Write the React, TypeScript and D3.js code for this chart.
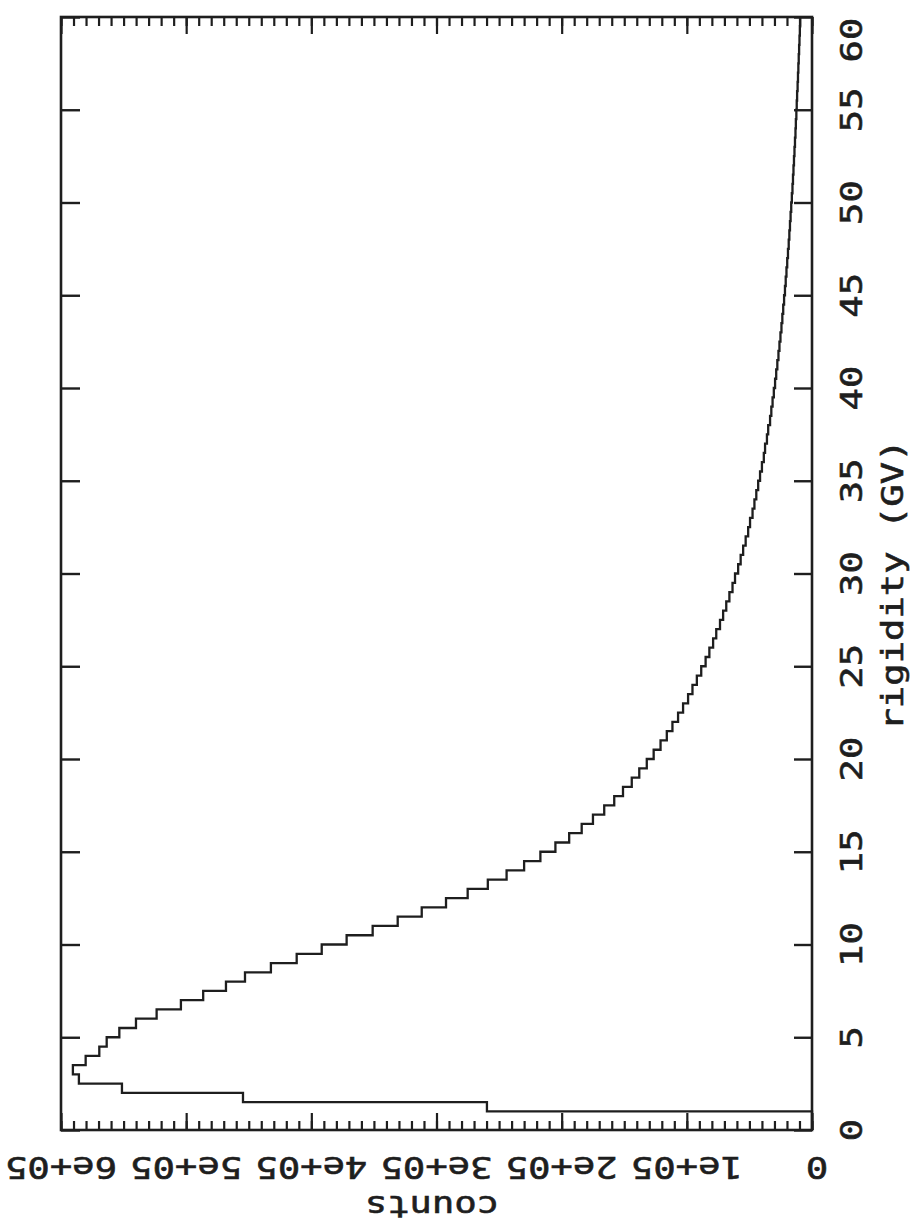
import React, { useEffect, useRef } from 'react';
import * as d3 from 'd3';

// histogram of rigidity, 0.5 GV bins starting at 0 GV (counts)
const binWidth = 0.5;
const binStarts = d3.range(0, 60, binWidth);
const counts = [
  0, 0, 259700, 454600, 551300, 585700, 590500, 580300, 569400, 563500,
  553400, 540100, 523600, 504200, 486400, 468200, 453000, 432300, 411700, 391700,
  371800, 351000, 331000, 311800, 292400, 275100, 259000, 244000, 230000, 217000,
  205000, 194000, 184000, 175000, 166000, 158000, 151000, 144000, 138000, 132000,
  126500, 121000, 116000, 111500, 107000, 103000, 99000, 95500, 92000, 88500,
  85000, 82000, 79000, 76500, 73500, 71000, 68500, 66000, 63500, 61500,
  59000, 57000, 55000, 53000, 51000, 49500, 47500, 46000, 44500, 43000,
  41500, 40000, 38500, 37500, 36000, 35000, 33500, 32500, 31500, 30500,
  29500, 28600, 27700, 26800, 26000, 25200, 24400, 23700, 23000, 22300,
  21600, 21000, 20400, 19800, 19200, 18600, 18100, 17600, 17100, 16600,
  16100, 15600, 15200, 14800, 14400, 14000, 13600, 13200, 12900, 12500,
  12200, 11900, 11500, 11200, 10900, 10600, 10300, 10000, 9700, 9400
];
const rigidityTicks = [0, 5, 10, 15, 20, 25, 30, 35, 40, 45, 50, 55, 60];
const countTicks = [0, 1e5, 2e5, 3e5, 4e5, 5e5, 6e5];
const countTickLabels = ['0', '1e+05', '2e+05', '3e+05', '4e+05', '5e+05', '6e+05'];

const W = 914;
const H = 1228;
const left = 61, right = 812, top = 17, bottom = 1130;
const ink = '#1e1e1e';
const font = '"DejaVu Sans Mono", monospace';

export default function App() {
  const ref = useRef(null);

  useEffect(() => {
    const svg = d3.select(ref.current);
    svg.selectAll('*').remove();

    // plot is turned on its side: counts run right-to-left, rigidity bottom-to-top
    const x = d3.scaleLinear().domain([0, 6e5]).range([right, left]);
    const y = d3.scaleLinear().domain([0, 60]).range([bottom, top]);

    // step outline of the histogram
    const pts = [[x(0), y(0)]];
    counts.forEach((c, i) => {
      pts.push([x(c), y(binStarts[i])]);
      pts.push([x(c), y(binStarts[i] + binWidth)]);
    });
    svg.append('path')
      .attr('d', d3.line()(pts))
      .attr('fill', 'none')
      .attr('stroke', ink)
      .attr('stroke-width', 2.3);

    const minor = d3.range(0, 6e5 + 1, 1e4);

    const styleAxis = (g, w) => {
      g.select('.domain').remove();
      g.selectAll('line').attr('stroke', ink).attr('stroke-width', w);
      g.selectAll('text').remove();
    };

    // counts axis ticks, bottom and top, pointing inwards
    svg.append('g').attr('transform', `translate(0,${bottom})`)
      .call(d3.axisBottom(x).tickValues(minor).tickSize(-9))
      .call(g => styleAxis(g, 2.2));
    svg.append('g').attr('transform', `translate(0,${bottom})`)
      .call(d3.axisBottom(x).tickValues(countTicks).tickSize(-17))
      .call(g => styleAxis(g, 2.2));
    svg.append('g').attr('transform', `translate(0,${top})`)
      .call(d3.axisTop(x).tickValues(minor).tickSize(-9))
      .call(g => styleAxis(g, 2.2));
    svg.append('g').attr('transform', `translate(0,${top})`)
      .call(d3.axisTop(x).tickValues(countTicks).tickSize(-17))
      .call(g => styleAxis(g, 2.2));

    // rigidity axis ticks, left and right
    svg.append('g').attr('transform', `translate(${left},0)`)
      .call(d3.axisLeft(y).tickValues(rigidityTicks).tickSize(-19))
      .call(g => styleAxis(g, 2.4));
    svg.append('g').attr('transform', `translate(${right},0)`)
      .call(d3.axisRight(y).tickValues(rigidityTicks).tickSize(-18))
      .call(g => styleAxis(g, 2.4));

    // frame
    svg.append('rect')
      .attr('x', left).attr('y', top)
      .attr('width', right - left).attr('height', bottom - top)
      .attr('fill', 'none').attr('stroke', ink).attr('stroke-width', 2.6);

    const label = (sel) => sel
      .attr('text-anchor', 'middle')
      .attr('dominant-baseline', 'central')
      .attr('font-family', font).attr('font-size', 31)
      .attr('fill', ink).attr('stroke', ink).attr('stroke-width', 0.6);

    // rigidity labels, reading bottom to top (the top one kept inside the page)
    svg.append('g').selectAll('text')
      .data(rigidityTicks)
      .join('text')
      .attr('transform', d => `translate(851,${Math.max(y(d), 40)}) rotate(-90) scale(1.2,1)`)
      .call(label)
      .text(d => d);

    svg.append('text')
      .attr('transform', `translate(892,585) rotate(-90) scale(1.2,1)`)
      .call(label)
      .text('rigidity (GV)');

    // counts labels, upside down
    svg.append('g').selectAll('text')
      .data(countTicks)
      .join('text')
      .attr('transform', d => `translate(${x(d) + (d === 0 ? 5 : 0)},1168) rotate(180) scale(1.2,1)`)
      .call(label)
      .text((d, i) => countTickLabels[i]);

    svg.append('text')
      .attr('transform', `translate(432,1207) rotate(180) scale(1.2,1)`)
      .call(label)
      .text('counts');
  }, []);

  return (
    <svg ref={ref} width={W} height={H}
      style={{ position: 'absolute', left: 0, top: 0, background: '#fff' }} />
  );
}
